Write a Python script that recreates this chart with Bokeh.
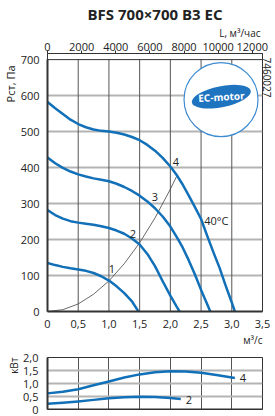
import math
from bokeh.plotting import figure
from bokeh.models import Range1d, LinearAxis, FixedTicker, Title, Label, Span
from bokeh.layouts import column
from bokeh.embed import file_html
from bokeh.resources import INLINE
from bokeh.core.properties import value

FONT = "Open Sans"
BLUE = "#1170b8"

title_text = "BFS 700×700 B3 EC"
flow_unit_top = "L, м³/час"
flow_unit_bottom = "м³/с"
pressure_label = "Рст, Па"
power_label = "кВт"
code_text = "7460027"
temp_text = "40°C"

x_ticks = [0, 0.5, 1.0, 1.5, 2.0, 2.5, 3.0, 3.5]
x_tick_labels = ["0", "0,5", "1,0", "1,5", "2,0", "2,5", "3,0", "3,5"]
y_ticks = [0, 100, 200, 300, 400, 500, 600, 700]
top_ticks = [0, 2000, 4000, 6000, 8000, 10000, 12000]
pw_ticks = [0, 0.5, 1.0, 1.5, 2.0]
pw_tick_labels = ["0", "0,5", "1,0", "1,5", "2,0"]

# pressure curves (m3/s, Pa)
c1_q = [0, 0.125, 0.25, 0.375, 0.5, 0.625, 0.75, 0.875, 1.0, 1.125, 1.25, 1.375, 1.48]
c1_p = [135, 129, 124, 120, 117, 113, 107, 98, 86, 70, 51, 28, 0]
c2_q = [0, 0.125, 0.25, 0.375, 0.5, 0.625, 0.75, 0.875, 1.0, 1.125, 1.25, 1.375, 1.5,
        1.625, 1.75, 1.875, 2.0, 2.1, 2.15]
c2_p = [282, 268, 258, 251, 247, 244, 241, 237, 232, 225, 216, 203, 186,
        160, 126, 84, 44, 14, 0]
c3_q = [0, 0.125, 0.25, 0.375, 0.5, 0.625, 0.75, 0.875, 1.0, 1.125, 1.25, 1.375, 1.5,
        1.625, 1.75, 1.875, 2.0, 2.1, 2.2, 2.3, 2.4, 2.5, 2.6, 2.65]
c3_p = [428, 412, 399, 389, 381, 375, 370, 366, 362, 355, 346, 335, 322,
        306, 287, 264, 236, 208, 178, 142, 103, 60, 20, 0]
c4_q = [0, 0.125, 0.25, 0.375, 0.5, 0.625, 0.75, 0.875, 1.0, 1.125, 1.25, 1.375, 1.5,
        1.625, 1.75, 1.875, 2.0, 2.1, 2.2, 2.3, 2.4, 2.5, 2.6, 2.7, 2.8, 2.9, 3.0, 3.05]
c4_p = [582, 565, 549, 533, 521, 512, 506, 502, 500, 497, 492, 485, 476,
        463, 447, 427, 403, 380, 353, 322, 290, 257, 210, 165, 122, 72, 25, 0]
curve_names = ["1", "2", "3", "4"]
curve_label_q = [1.05, 1.39, 1.75, 2.09]
curve_label_p = [118, 214, 317, 415]

# system curve
sys_q = [0, 0.25, 0.5, 0.75, 1.0, 1.25, 1.5, 1.75, 2.0, 2.1]
sys_p = [0, 5, 21, 48, 85, 133, 191, 260, 340, 375]

# power curves (m3/s, kW)
p4_q = [0, 0.25, 0.5, 0.75, 1.0, 1.25, 1.5, 1.75, 2.0, 2.25, 2.5, 2.75, 3.05]
p4_w = [0.62, 0.68, 0.78, 0.93, 1.08, 1.23, 1.35, 1.43, 1.47, 1.46, 1.41, 1.33, 1.21]
p2_q = [0, 0.25, 0.5, 0.75, 1.0, 1.25, 1.5, 1.75, 2.0, 2.17]
p2_w = [0.22, 0.26, 0.31, 0.37, 0.43, 0.47, 0.49, 0.48, 0.44, 0.40]
power_names = ["4", "2"]

AX = "#333333"
GRID_V = "#555555"
GRID_H = "#b4b4b4"
TXT = "#222222"

# ---------------- main chart ----------------
p = figure(width=275, height=349, x_range=Range1d(0, 3.5), y_range=Range1d(0, 717),
           output_backend="svg", toolbar_location=None, title_location=None,
           min_border_left=44, min_border_right=13, min_border_top=53, min_border_bottom=38)
p.background_fill_color = "white"
p.border_fill_color = "white"
p.outline_line_color = AX
p.outline_line_width = 1

bottom_axis = p.xaxis[0]
left_axis = p.yaxis[0]

p.extra_x_ranges = {"lh": Range1d(0, 3.5 * 3600)}
top_axis = LinearAxis(x_range_name="lh", ticker=FixedTicker(ticks=top_ticks))
top_axis.major_label_overrides = {t: str(t) for t in top_ticks}
top_axis.major_tick_in = 0
top_axis.major_tick_out = 3
top_axis.minor_tick_out = 0
top_axis.minor_tick_in = 0
top_axis.major_label_standoff = 0
top_axis.axis_line_color = AX
top_axis.major_tick_line_color = AX
top_axis.major_label_text_font = FONT
top_axis.major_label_text_font_size = "11px"
top_axis.major_label_text_color = TXT
p.add_layout(top_axis, "above")
p.add_layout(Title(text=flow_unit_top, align="right", text_font=FONT, text_font_size="10px",
                   text_font_style="normal", text_color=TXT, standoff=0, offset=2), "above")
p.add_layout(Title(text=title_text, align="center", text_font=FONT, text_font_size="15px",
                   text_font_style="bold", text_color=TXT, standoff=0), "above")

bottom_axis.ticker = FixedTicker(ticks=x_ticks)
bottom_axis.major_label_overrides = dict(zip(x_ticks, x_tick_labels))
left_axis.ticker = FixedTicker(ticks=y_ticks)
left_axis.bounds = (0, 700)
for ax in [bottom_axis, left_axis]:
    ax.axis_line_color = AX
    ax.axis_line_width = 2
    ax.major_tick_in = 0
    ax.major_tick_out = 0
    ax.minor_tick_in = 0
    ax.minor_tick_out = 0
    ax.major_label_text_font = FONT
    ax.major_label_text_font_size = "11px"
    ax.major_label_text_color = TXT
    ax.major_label_standoff = 8
p.add_layout(Title(text=flow_unit_bottom, align="right", text_font=FONT, text_font_size="10px",
                   text_font_style="normal", text_color=TXT, standoff=0), "below")
p.add_layout(Title(text=pressure_label, align="right", text_font=FONT, text_font_size="11px",
                   text_font_style="normal", text_color=TXT, standoff=0, offset=12), "left")
p.add_layout(Title(text=code_text, align="left", text_font=FONT, text_font_size="10px",
                   text_font_style="normal", text_color=TXT, standoff=0, offset=4), "right")

p.xgrid.visible = False
p.ygrid.ticker = FixedTicker(ticks=y_ticks[1:-1])
p.ygrid.grid_line_color = GRID_H
p.ygrid.grid_line_width = 2
p.segment(x0=x_ticks[1:-1], y0=[0] * 6, x1=x_ticks[1:-1], y1=[700] * 6,
          line_color=GRID_V, line_width=1)
p.add_layout(Span(location=700, dimension="width", line_color=AX, line_width=1))

# EC-motor logo
p.circle(x=[2.825], y=[589], radius=37, radius_units="screen", fill_color="white",
         line_color="#3d8bd0", line_width=1.2)
p.ellipse(x=[2.83], y=[597], width=60, height=21, width_units="screen", height_units="screen",
          angle=0.2, fill_color="#1f74c0", line_color=None)
p.text(x=[2.83], y=[597], text=["EC-motor"], text_font=value(FONT), text_font_size="10px",
       text_color="white", text_align="center", text_baseline="middle", text_font_style="bold",
       angle=0.06)

p.line(sys_q, sys_p, line_color="#444444", line_width=0.8)
for qq, pr in [(c1_q, c1_p), (c2_q, c2_p), (c3_q, c3_p), (c4_q, c4_p)]:
    p.line(qq, pr, line_color=BLUE, line_width=2.5, line_join="round")
p.text(x=curve_label_q, y=curve_label_p, text=curve_names, text_font=value(FONT),
       text_font_size="11px", text_color=TXT, text_align="center", text_baseline="middle")
p.text(x=[2.55], y=[252], text=[temp_text], text_font=value(FONT), text_font_size="11px",
       text_color=TXT, text_align="left", text_baseline="middle")

# ---------------- power chart ----------------
q = figure(width=275, height=67, x_range=Range1d(0, 3.5), y_range=Range1d(0, 2.0),
           output_backend="svg", toolbar_location=None, title_location=None,
           min_border_left=44, min_border_right=13, min_border_top=8, min_border_bottom=7)
q.outline_line_color = AX
q.outline_line_width = 1
q.xaxis.visible = False
ya = q.yaxis[0]
ya.ticker = FixedTicker(ticks=pw_ticks)
ya.major_label_overrides = dict(zip(pw_ticks, pw_tick_labels))
ya.axis_line_color = AX
ya.axis_line_width = 2
ya.major_tick_in = 0
ya.major_tick_out = 0
ya.minor_tick_in = 0
ya.minor_tick_out = 0
ya.major_label_text_font = FONT
ya.major_label_text_font_size = "11px"
ya.major_label_text_color = TXT
ya.major_label_standoff = 9
q.add_layout(Title(text=power_label, align="right", text_font=FONT, text_font_size="10px",
                   text_font_style="normal", text_color=TXT, standoff=0, offset=0), "left")
q.xgrid.ticker = FixedTicker(ticks=x_ticks[1:-1])
q.xgrid.grid_line_color = GRID_V
q.xgrid.grid_line_width = 1
q.ygrid.ticker = FixedTicker(ticks=pw_ticks[1:-1])
q.ygrid.grid_line_color = GRID_H
q.ygrid.grid_line_width = 2
q.add_layout(Span(location=0, dimension="width", line_color=AX, line_width=2))

q.line(p4_q, p4_w, line_color=BLUE, line_width=2.5, line_join="round")
q.line(p2_q, p2_w, line_color=BLUE, line_width=2.5, line_join="round")
q.text(x=[p4_q[-1] + 0.08, p2_q[-1] + 0.08], y=[p4_w[-1], p2_w[-1] - 0.05], text=power_names,
       text_font=value(FONT), text_font_size="11px", text_color=TXT,
       text_align="left", text_baseline="middle")

layout = column(p, q, spacing=0)
open("out.html", "w").write(file_html(layout, INLINE))
